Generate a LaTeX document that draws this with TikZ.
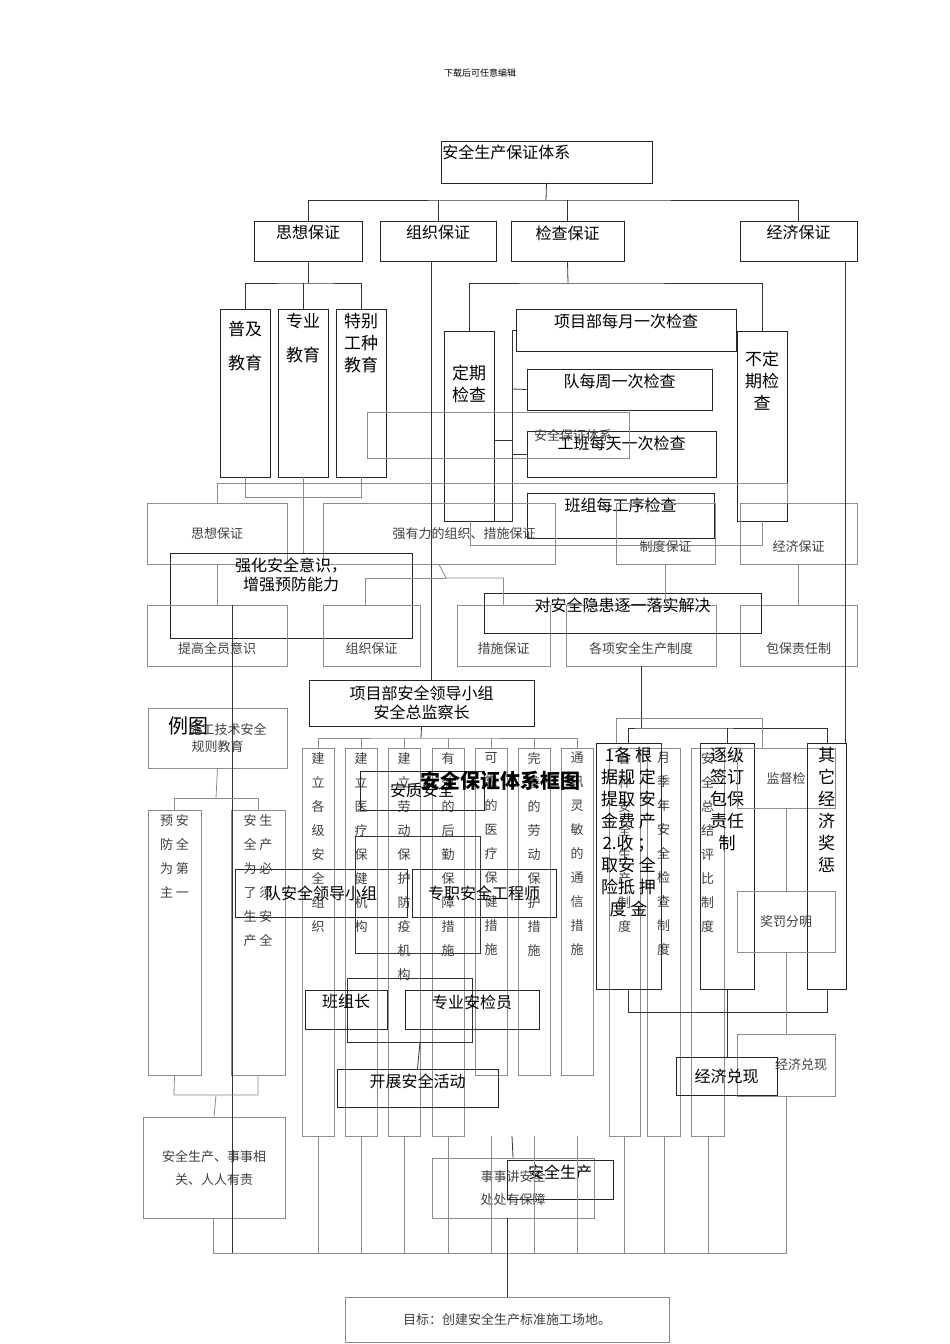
\documentclass[tikz,border=0pt]{standalone}
\usepackage{fontspec}
\newfontfamily\cjk{Noto Sans CJK SC}
\begin{document}
\begin{tikzpicture}[x=1pt,y=-1pt,line width=0.9pt,
 bx/.style={draw=black!85,inner sep=1pt,font=\cjk\fontsize{16}{19}\selectfont,align=center},
 gb/.style={draw=black!45,inner sep=1pt,font=\cjk\fontsize{13}{17}\selectfont,text=black!75,align=center},
 gv/.style={gb,font=\cjk\fontsize{13}{24}\selectfont},
 bv/.style={bx,font=\cjk\fontsize{17}{22}\selectfont},
 ln/.style={draw=black!80,line width=0.8pt},
 gl/.style={draw=black!45,line width=0.8pt}]
\useasboundingbox (0,0) rectangle (950,1344);
\newcommand\bx[7][bx]{\node[#1,minimum width={(#5-#3)*1pt},minimum height={(#6-#4)*1pt}] (#2) at ({(#3+#5)/2},{(#4+#6)/2}) {#7};}
\newcommand\bt[7][bx]{\node[#1,minimum width={(#5-#3)*1pt},minimum height={(#6-#4)*1pt}] (#2) at ({(#3+#5)/2},{(#4+#6)/2}) {};
 \node[#1,draw=none,anchor=north] at ({(#3+#5)/2},{#4+3}) {#7};}
\node[font=\cjk\fontsize{9}{11}\selectfont] (hd) at (480,73) {下载后可任意编辑};
\node[bx,minimum width=211pt,minimum height=42pt] (A) at (546.5,162) {};
\node[bx,draw=none,anchor=north west] at (441,143) {安全生产保证体系};
\bt{s1}{254}{221}{362}{261}{思想保证}
\bt{s2}{380}{221}{496}{261}{组织保证}
\bt{s3}{511}{221}{624}{261}{检查保证}
\bt{s4}{740}{221}{857}{261}{经济保证}
\bt[bv]{e1}{220}{309}{270}{477}{\\普及\\[12pt]教育}
\bt[bv]{e2}{278}{309}{328}{477}{专业\\[12pt]教育}
\bt[bv]{e3}{336}{309}{386}{477}{特别\\工种\\教育}
\bt[bv]{c0}{444}{331}{494}{521}{\\[22pt]定期\\检查}
\bt{c1}{516}{309}{736}{351}{项目部每月一次检查}
\bt{c2}{527}{369}{712}{410}{队每周一次检查}
\bt{c3}{527}{431}{716}{477}{工班每天一次检查}
\bt{c4}{527}{493}{714}{538}{班组每工序检查}
\bt[bv]{c5}{737}{331}{787}{521}{\\[8pt]不定\\期检\\查}
\bx[gb]{ov}{367}{412}{629}{458}{\hspace*{150pt}安全保证体系}
\bx[gb]{g1}{147}{503}{287}{564}{思想保证}
\bx[gb]{g2}{323}{503}{555}{564}{\hspace*{50pt}强有力的组织、措施保证}
\bx[gb]{g3}{616}{503}{715}{564}{\\[20pt]制度保证}
\bx[gb]{g4}{740}{503}{857}{564}{\\[20pt]经济保证}
\bt{qh}{170}{553}{412}{638}{强化安全意识，\\增强预防能力}
\bx[gb]{h1}{147}{605}{287}{666}{\\[20pt]提高全员意识}
\bx[gb]{h2}{323}{605}{420}{666}{\\[20pt]组织保证}
\bx[gb]{h3}{457}{605}{550}{666}{\\[20pt]措施保证}
\bx[gb]{h4}{566}{605}{716}{666}{\\[20pt]各项安全生产制度}
\bx[gb]{h5}{740}{605}{857}{666}{\\[20pt]包保责任制}
\bt{dx}{484}{593}{761}{633}{对安全隐患逐一落实解决}
\bx{ld}{309}{680}{534}{726}{项目部安全领导小组\\安全总监察长}
\bx[gb]{jy}{148}{708}{287}{768}{\hspace*{20pt}施工技术安全\\规则教育}
\node[bx,draw=none,font=\cjk\fontsize{20}{22}\selectfont] (lt) at (188,726) {例图};
\bt[gv]{yf}{148}{810}{201}{1075}{预 安\\防 全\\为 第\\主 一}
\bt[gv]{aw}{231}{810}{285}{1075}{安 生\\全 产\\为 必\\了 须\\生 安\\产 全}
\bt[gv]{k1}{302}{748}{334}{1136}{建\\立\\各\\级\\安\\全\\组\\织}
\bt[gv]{k2}{345}{748}{377}{1136}{建\\立\\医\\疗\\保\\健\\机\\构}
\bt[gv]{k3}{388}{748}{420}{1136}{建\\立\\劳\\动\\保\\护\\防\\疫\\机\\构}
\bt[gv]{k4}{432}{748}{464}{1136}{有\\效\\的\\后\\勤\\保\\障\\措\\施}
\bt[gv]{k5}{475}{748}{507}{1075}{可\\靠\\的\\医\\疗\\保\\健\\措\\施}
\bt[gv]{k6}{518}{748}{550}{1075}{完\\善\\的\\劳\\动\\保\\护\\措\\施}
\bt[gv]{k7}{561}{748}{593}{1075}{通\\讯\\灵\\敏\\的\\通\\信\\措\\施}
\bx{aq}{360}{771}{484}{810}{安质安全}
\node[font=\cjk\bfseries\fontsize{20}{24}\selectfont] (tt) at (500,781) {安全保证体系框图};
\node[draw=black!80,minimum width=125pt,minimum height=117pt] (fr) at (417.5,894.5) {};
\bx{dl}{235}{869}{407}{917}{队安全领导小组}
\bx{zz}{412}{869}{556}{917}{专职安全工程师}
\node[draw=black!80,minimum width=125pt,minimum height=64pt] (fr2) at (409.5,1010) {};
\bt{bz}{305}{990}{387}{1029}{班组长}
\bt{aj}{405}{990}{539}{1029}{专业安检员}
\bt{kz}{337}{1069}{498}{1107}{开展安全活动}
\bt[gv]{r1}{609}{748}{640}{1136}{各\\种\\安\\全\\生\\产\\制\\度}
\bt[gv]{r2}{647}{748}{680}{1136}{月\\季\\年\\安\\全\\检\\查\\制\\度}
\bt[gv]{r3}{691}{748}{724}{1136}{安\\全\\总\\结\\评\\比\\制\\度}
\bt[bv]{r4}{596}{743}{661}{989}{1各 根\\据规 定\\提取 安\\金费 产\\2.收 ；\\取安 全\\险抵 押\\度 金}
\bt[bv]{r5}{700}{743}{754}{989}{逐级\\签订\\包保\\责任\\制}
\bx[gb]{r6}{737}{748}{835}{808}{监督检}
\bt[bv]{r7}{807}{743}{846}{989}{其\\它\\经\\济\\奖\\惩}
\bx[gb]{r8}{737}{891}{835}{952}{奖罚分明}
\bx[gb]{r9}{737}{1034}{835}{1096}{\hspace*{30pt}经济兑现}
\bx{r10}{676}{1057}{777}{1095}{经济兑现}
\bx[gb]{zr}{143}{1117}{285}{1218}{安全生产、事事相\\[6pt]关、人人有责}
\bx[gb]{ss}{432}{1158}{594}{1218}{事事讲安全\\[6pt]处处有保障}
\bt{sc}{507}{1160}{613}{1199}{安全生产}
\bx[gb]{mb}{345}{1297}{669}{1342}{目标：创建安全生产标准施工场地。}
\draw[ln] (A.south) -- (546,200) coordinate (b1);
\draw[ln] (s1.north) |- (b1) -| (s4.north);
\draw[ln] (s2.north) -- (s2.north |- b1);
\draw[ln] (s3.north) -- (s3.north |- b1);
\draw[ln] (s1.south) -- (308,283) coordinate (b2);
\draw[ln] (e1.north) |- (b2) -| (e3.north);
\draw[ln] (e2.north) -- (e2.north |- b2);
\draw[ln] (s3.south) -- (568,283) coordinate (b3);
\draw[ln] (c0.north) |- (b3) -| (c5.north);
\draw[ln] (431,261) -- (431,680);
\draw[ln] (845,261) -- (845,743);
\draw[ln] (c1.west) -| (512,521) -- (c0.east |- 0,521);
\draw[ln] (c2.west) -- (512,389);
\draw[ln] (c3.west) -- (512,454);
\draw[ln] (c0.east |- 0,440) -- (512,440);
\draw[gl] (e1.south) -- (245,497) -| (e3.south);
\draw[gl] (e2.south) -- (e2.south |- qh.north);
\draw[gl] (217,503) |- (217,483) -| (787,503);
\draw[gl] (470,521) |- (470,545) -| (762,521);
\draw[gl] (g1.south) -- (g1.south |- h1.north);
\draw[gl] (g2.south) -- (446,578) -| (h3.north);
\draw[gl] (446,578) -| (365,605);
\draw[gl] (g3.south) -- (g3.south |- h4.north);
\draw[gl] (g4.south) -- (g4.south |- h5.north);
\draw[ln] (232,605) -- (232,1253);
\draw[ln] (ld.south) -- (421,738) coordinate (b4);
\draw[gl] (318,748) |- (b4) -| (577,748);
\draw[gl] (361,748) -- (361,738); \draw[gl] (404,748) -- (404,738);
\draw[gl] (448,748) -- (448,738); \draw[gl] (491,748) -- (491,738); \draw[gl] (534,748) -- (534,738);
\draw[gl] (jy.south) -- (216,798) coordinate (b5);
\draw[gl] (yf.north) |- (b5) -| (aw.north);
\draw[gl] (yf.south) -- (174,1095) -| (258,1075);
\draw[gl] (216,1095) -- (zr.north);
\draw[ln] (h4.south) -- (641,728) coordinate (b6);
\draw[ln] (628,743) |- (b6) -| (827,743);
\draw[ln] (727,743) -- (727,728);
\draw[gl] (616,743) |- (616,718) -| (762,748);
\draw[ln] (628,989) |- (628,1012) -| (827,989);
\draw[ln] (727,989) -- (727,1057);
\draw[gl] (786,808) -- (786,891); \draw[gl] (786,952) -- (786,1034);
\draw[ln] (kz.north) -- (420,1042);
\draw[gl] (213,1218) -- (213,1253) -- (786,1253) -- (786,1096);
\foreach \x in {318,361,404,448,491,534,577,624,664,708} \draw[gl] (\x,1136) -- (\x,1253);
\draw[ln] (ss.north) -- (512,1136);
\draw[ln] (507,1218) -- (mb.north);
\end{tikzpicture}
\end{document}
